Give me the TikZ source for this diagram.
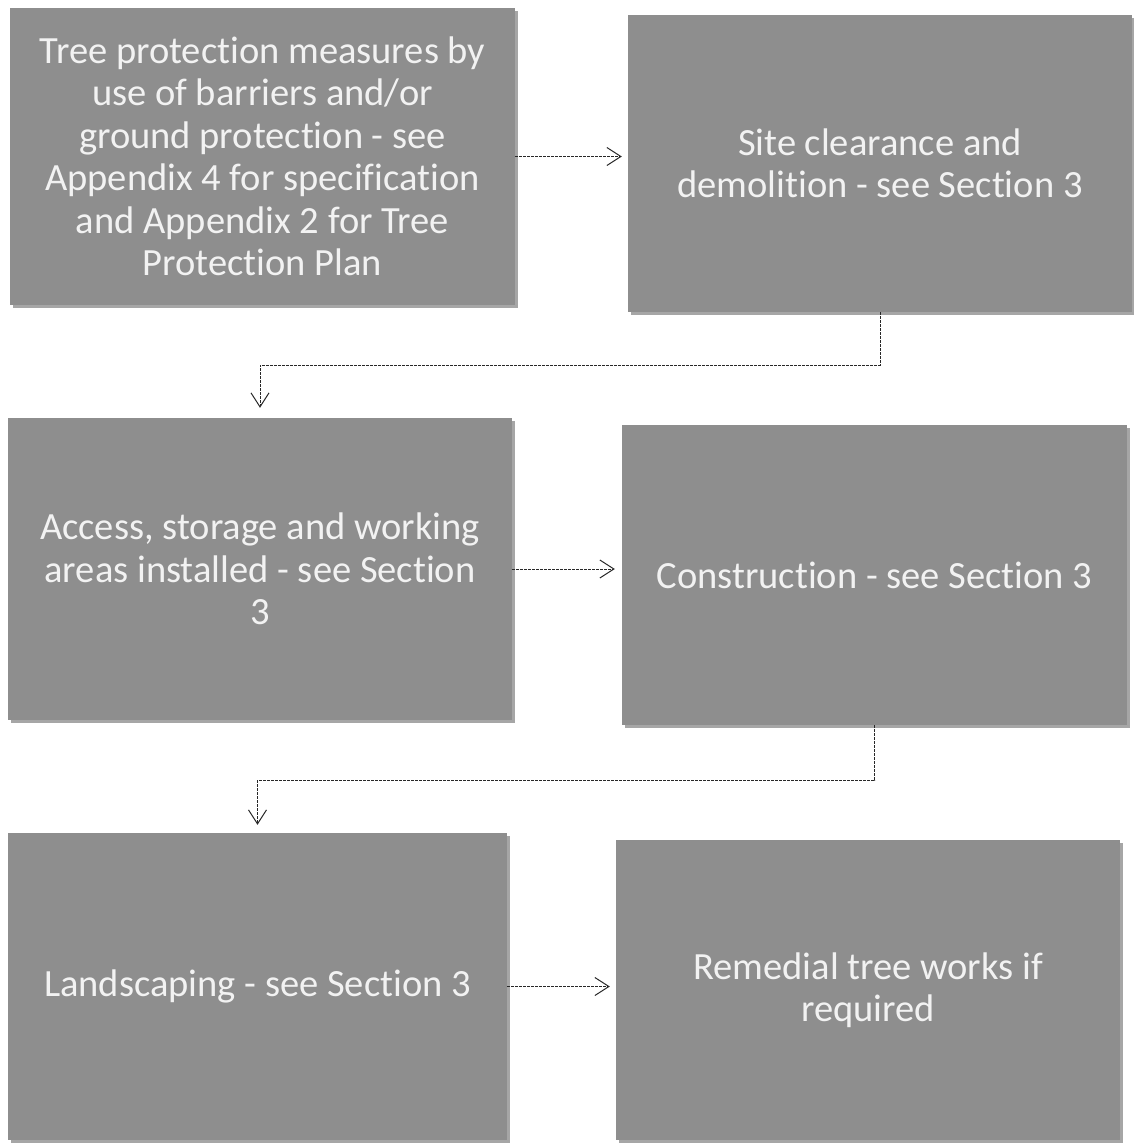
\documentclass[tikz,border=0pt]{standalone}
\usepackage{fontspec}
\setmainfont{Carlito}[Ligatures=NoCommon]
\usetikzlibrary{arrows.meta,shadows}
\definecolor{boxgray}{RGB}{142,142,142}
\definecolor{txtwhite}{RGB}{242,242,242}
\definecolor{linegray}{RGB}{40,40,40}
\tikzset{
  stepbox/.style={rectangle, fill=boxgray, inner sep=0pt, align=center,
    text=txtwhite, font=\fontsize{38.5}{42.5}\selectfont,
    drop shadow={shadow xshift=3pt, shadow yshift=-3pt, opacity=0.35, fill=black}},
  conn/.style={draw=linegray, line width=1pt, dash pattern=on 3pt off 1pt,
    -{Straight Barb[length=14pt,width=18pt,line width=1pt]}}
}
\begin{document}
\begin{tikzpicture}[x=1pt,y=-1pt]
\useasboundingbox[fill=white] (0,0) rectangle (1133,1146);
\node[stepbox, minimum width=505, minimum height=297] (b1) at (262.5,156.5)
  {Tree protection measures by\\use of barriers and/or\\ground protection - see\\Appendix 4 for specification\\and Appendix 2 for Tree\\Protection Plan};
\node[stepbox, minimum width=504, minimum height=297] (b2) at (880,163.5)
  {Site clearance and\\demolition - see Section 3};
\node[stepbox, minimum width=504, minimum height=302] (b3) at (260,569)
  {Access, storage and working\\areas installed - see Section\\3};
\node[stepbox, minimum width=505, minimum height=300] (b4) at (874.5,575)
  {Construction - see Section 3};
\node[stepbox, minimum width=499, minimum height=307] (b5) at (257.5,986.5)
  {Landscaping - see Section 3};
\node[stepbox, minimum width=504, minimum height=300] (b6) at (868,990)
  {Remedial tree works if\\required};
\draw[conn, shorten >=6pt] (b1.east) -- (b1.east -| b2.west);
\draw[conn, shorten >=10pt] (b2.south) -- ++(0,53) -| (b3.north);
\draw[conn, shorten >=7pt] (b3.east) -- (b3.east -| b4.west);
\draw[conn, shorten >=8pt] (b4.south) -- ++(0,55) -| (b5.north);
\draw[conn, shorten >=6pt] (b5.east) -- (b5.east -| b6.west);
\end{tikzpicture}
\end{document}
